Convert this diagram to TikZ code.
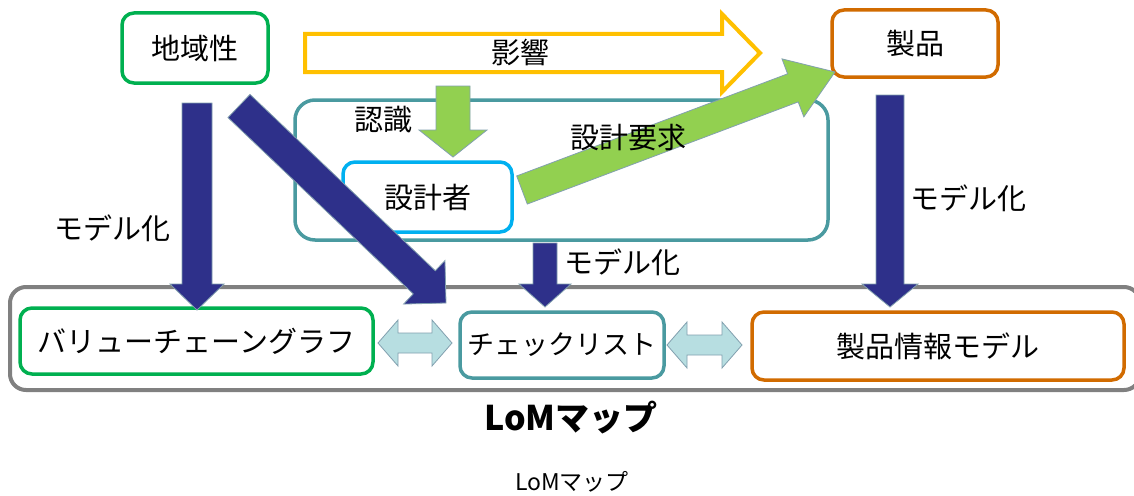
\documentclass[tikz,border=0pt]{standalone}
\usepackage{fontspec}
\setmainfont{Noto Sans CJK JP}
\usetikzlibrary{calc}
\definecolor{boxgreen}{RGB}{0,176,80}
\definecolor{boxorange}{RGB}{209,107,0}
\definecolor{boxteal}{RGB}{74,154,160}
\definecolor{boxcyan}{RGB}{0,176,240}
\definecolor{navyc}{RGB}{46,48,138}
\definecolor{lgreen}{RGB}{146,208,80}
\definecolor{yell}{RGB}{255,192,0}
\definecolor{lblue}{RGB}{183,222,225}
\definecolor{edgec}{RGB}{130,160,175}
\definecolor{grayc}{RGB}{128,128,128}
% block arrow: style, start, tip, half shaft, half head, head length
\newcommand{\blockarrow}[6]{%
  \coordinate (bah) at ($(#3)!#6!(#2)$);
  \draw[#1] ($(#2)!#4!90:(#3)$) -- ($(bah)!#4!90:(#3)$) -- ($(bah)!#5!90:(#3)$)
    -- (#3) -- ($(bah)!#5!-90:(#3)$) -- ($(bah)!#4!-90:(#3)$) -- ($(#2)!#4!-90:(#3)$) -- cycle;
}
% double block arrow: style, end A, end B, half shaft, half head, head length
\newcommand{\dblarrow}[6]{%
  \coordinate (dha) at ($(#2)!#6!(#3)$);
  \coordinate (dhb) at ($(#3)!#6!(#2)$);
  \draw[#1] (#2) -- ($(dha)!#5!90:(#3)$) -- ($(dha)!#4!90:(#3)$) -- ($(dhb)!#4!90:(#3)$)
    -- ($(dhb)!#5!90:(#3)$) -- (#3) -- ($(dhb)!#5!-90:(#3)$) -- ($(dhb)!#4!-90:(#3)$)
    -- ($(dha)!#4!-90:(#3)$) -- ($(dha)!#5!-90:(#3)$) -- cycle;
}
\begin{document}
\begin{tikzpicture}[x=1pt,y=-1pt,
  box/.style={draw,line width=3.5pt,rounded corners=12pt,fill=white,
    font=\fontsize{29}{32}\selectfont,inner sep=0pt},
  lbl/.style={font=\fontsize{29}{32}\selectfont,inner sep=0pt},
  navyarrow/.style={fill=navyc,draw=edgec,line width=0.8pt},
  greenarrow/.style={fill=lgreen,draw=edgec,line width=0.8pt},
  yellowarrow/.style={fill=white,draw=yell,line width=4pt,line join=miter},
  dblstyle/.style={fill=lblue,draw=edgec,line width=0.8pt}]
\useasboundingbox (0,0) rectangle (1134,495);
\fill[white] (0,0) rectangle (1134,495);
% containers
\node[draw=grayc,line width=4pt,rounded corners=16pt,minimum width=1130pt,minimum height=103pt,inner sep=0pt] (lom) at (575,338.5) {};
\node[draw=boxteal,line width=3.5pt,rounded corners=20pt,minimum width=533pt,minimum height=140pt,inner sep=0pt] (team) at (561.5,170) {};
% boxes
\node[box,draw=boxgreen,minimum width=146pt,minimum height=70pt] (region) at (195,48) {地域性};
\node[box,draw=boxorange,minimum width=166pt,minimum height=67pt] (product) at (915,43.5) {製品};
\node[box,draw=boxcyan,minimum width=169pt,minimum height=70pt] (designer) at (427.5,197) {設計者};
\node[box,draw=boxgreen,minimum width=353pt,minimum height=66pt] (vcg) at (196.5,341) {バリューチェーングラフ};
\node[box,draw=boxteal,minimum width=204pt,minimum height=66pt,font=\fontsize{27}{30}\selectfont] (check) at (562,345) {チェックリスト};
\node[box,draw=boxorange,minimum width=372pt,minimum height=68pt] (pim) at (938,346) {製品情報モデル};
% arrow end points
\coordinate (y1) at (305,53);  \coordinate (y2) at (760,53);
\coordinate (g1) at (453,86);  \coordinate (g2) at (453,157);
\coordinate (d1) at (522,190); \coordinate (d2) at (835,72);
\coordinate (n1) at (197,103); \coordinate (n2) at (197,310);
\coordinate (m1) at (239,106); \coordinate (m2) at (446,303);
\coordinate (c1) at (545,243); \coordinate (c2) at (545,307);
\coordinate (r1) at (890,95);  \coordinate (r2) at (890,307);
\coordinate (a1) at (378,343); \coordinate (a2) at (452,343);
\coordinate (b1) at (667,345); \coordinate (b2) at (742,345);
% arrows
\blockarrow{yellowarrow}{y1}{y2}{19pt}{39pt}{38pt}
\blockarrow{greenarrow}{g1}{g2}{17pt}{34pt}{27pt}
\blockarrow{greenarrow}{d1}{d2}{15pt}{31pt}{45pt}
\blockarrow{navyarrow}{n1}{n2}{15pt}{27pt}{26pt}
\blockarrow{navyarrow}{m1}{m2}{16pt}{30pt}{30pt}
\blockarrow{navyarrow}{c1}{c2}{12pt}{26pt}{23pt}
\blockarrow{navyarrow}{r1}{r2}{14pt}{28pt}{23pt}
\dblarrow{dblstyle}{a1}{a2}{10pt}{23pt}{20pt}
\dblarrow{dblstyle}{b1}{b2}{10pt}{23pt}{20pt}
% labels
\node[lbl] (lbl-eikyo) at (520,52) {影響};
\node[lbl] (lbl-ninshiki) at (383,120) {認識};
\node[lbl] (lbl-req) at (628,138) {設計要求};
\node[lbl] (lbl-m1) at (112,228) {モデル化};
\node[lbl] (lbl-m2) at (622,262) {モデル化};
\node[lbl] (lbl-m3) at (968,198) {モデル化};
\node[inner sep=0pt,font=\fontsize{34}{38}\selectfont\bfseries] (title) at (571,418) {LoMマップ};
\node[inner sep=0pt,font=\fontsize{23}{26}\selectfont] (caption) at (572,482) {LoMマップ};
\end{tikzpicture}
\end{document}
